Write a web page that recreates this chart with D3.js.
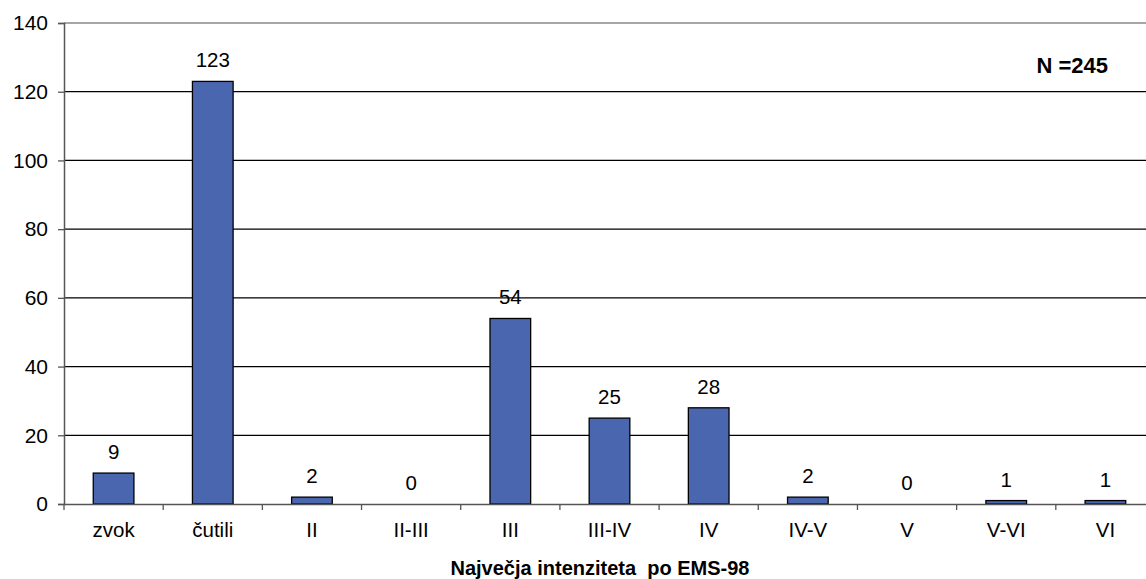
<!DOCTYPE html>
<html>
<head>
<meta charset="utf-8">
<script src="https://cdn.jsdelivr.net/npm/d3@7"></script>
<style>
  body { margin: 0; background: #fff; }
  svg { display: block; }
</style>
</head>
<body>
<div id="chart"></div>
<script>
// data
var categories = ["zvok", "čutili", "II", "II-III", "III", "III-IV", "IV", "IV-V", "V", "V-VI", "VI"];
var counts = [9, 123, 2, 0, 54, 25, 28, 2, 0, 1, 1];
var yTicks = [0, 20, 40, 60, 80, 100, 120, 140];
var axisTitle = "Največja intenziteta  po EMS-98";
var totalLabel = "N =245";

var drawChart = function () {
    var width = 1146, height = 579;
    var left = 64, right = 1155, top = 23, bottom = 504;
    var fontFamily = "Arial, 'Liberation Sans', sans-serif";
    var fontSize = 20.5;
    var barColor = "#4a66ae";

    var svg = d3.select("#chart").append("svg")
        .attr("width", width)
        .attr("height", height);

    var x = d3.scaleBand()
        .domain(categories)
        .range([left, right])
        .padding(0);

    var y = d3.scaleLinear()
        .domain([0, 140])
        .range([bottom, top]);

    // gridlines
    svg.append("g").selectAll("line")
        .data(yTicks.filter(function (d) { return d > 0 && d < 140; }))
        .join("line")
        .attr("x1", left).attr("x2", right)
        .attr("y1", function (d) { return y(d); })
        .attr("y2", function (d) { return y(d); })
        .attr("stroke", "#000")
        .attr("stroke-width", 1.3);

    // top border
    svg.append("line")
        .attr("x1", left).attr("x2", right)
        .attr("y1", y(140)).attr("y2", y(140))
        .attr("stroke", "#888")
        .attr("stroke-width", 1.5);

    // bars
    var barW = x.bandwidth() * 0.41;
    svg.append("g").selectAll("rect")
        .data(counts)
        .join("rect")
        .attr("x", function (d, i) { return x(categories[i]) + (x.bandwidth() - barW) / 2; })
        .attr("y", function (d) { return y(d); })
        .attr("width", barW)
        .attr("height", function (d) { return y(0) - y(d); })
        .attr("fill", barColor)
        .attr("stroke", "#000")
        .attr("stroke-width", 1.3);

    // value labels
    svg.append("g").selectAll("text")
        .data(counts)
        .join("text")
        .attr("x", function (d, i) { return x(categories[i]) + x.bandwidth() / 2; })
        .attr("y", function (d) { return y(d) - 14; })
        .attr("text-anchor", "middle")
        .attr("font-family", fontFamily)
        .attr("font-size", fontSize)
        .attr("fill", "#000")
        .text(function (d) { return d; });

    // y axis
    var yAxis = svg.append("g")
        .attr("transform", "translate(" + left + ",0)")
        .call(d3.axisLeft(y).tickValues(yTicks).tickSize(6).tickPadding(10));
    yAxis.select(".domain").attr("stroke", "#555").attr("stroke-width", 1.5);
    yAxis.selectAll(".tick line").attr("stroke", "#555").attr("stroke-width", 1.3);
    yAxis.selectAll("text")
        .attr("font-family", fontFamily)
        .attr("font-size", fontSize + 0.5)
        .attr("fill", "#000");

    // x axis
    var xAxis = svg.append("g")
        .attr("transform", "translate(0," + bottom + ")")
        .call(d3.axisBottom(x).tickSize(0).tickPadding(18));
    xAxis.select(".domain").attr("stroke", "#555").attr("stroke-width", 1.5);
    xAxis.selectAll("text")
        .attr("font-family", fontFamily)
        .attr("font-size", fontSize)
        .attr("fill", "#000");

    // category boundary ticks
    svg.append("g").selectAll("line")
        .data(categories.concat(["end"]))
        .join("line")
        .attr("x1", function (d, i) { return left + i * x.bandwidth(); })
        .attr("x2", function (d, i) { return left + i * x.bandwidth(); })
        .attr("y1", bottom)
        .attr("y2", bottom + 6)
        .attr("stroke", "#555")
        .attr("stroke-width", 1.3);

    // axis title
    svg.append("text")
        .attr("x", 600)
        .attr("y", 575)
        .attr("text-anchor", "middle")
        .attr("font-family", fontFamily)
        .attr("font-weight", "bold")
        .attr("font-size", 20)
        .attr("fill", "#000")
        .style("white-space", "pre")
        .text(axisTitle);

    // total label
    svg.append("text")
        .attr("x", 1108)
        .attr("y", 73)
        .attr("text-anchor", "end")
        .attr("font-family", fontFamily)
        .attr("font-weight", "bold")
        .attr("font-size", 22)
        .attr("fill", "#000")
        .text(totalLabel);
};

window.addEventListener("load", drawChart);
</script>
</body>
</html>
